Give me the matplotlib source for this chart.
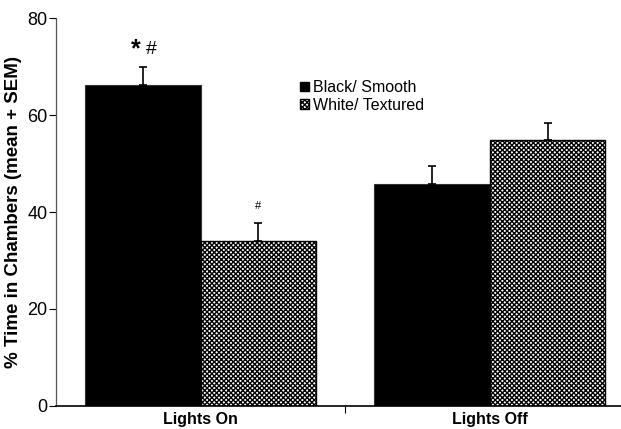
import numpy as np
import matplotlib
matplotlib.use("Agg")
import matplotlib.pyplot as plt
from matplotlib.patches import Patch

plt.rcParams['font.family'] = ['Liberation Sans', 'DejaVu Sans']
plt.rcParams['hatch.linewidth'] = 1.0

groups = ["Lights On", "Lights Off"]
series = ["Black/ Smooth", "White/ Textured"]
black_mean = [66.2, 45.7]
black_sem = [3.8, 3.7]
white_mean = [34.0, 54.8]
white_sem = [3.8, 3.6]

fig = plt.figure(figsize=(6.21, 4.29), dpi=100)
ax = fig.add_axes([0.0902, 0.0543, 0.9098, 0.9030])

x = np.arange(len(groups))
w = 0.40
ax.bar(x - w / 2, black_mean, w, color="black", edgecolor="#333333", linewidth=0.8)
ax.bar(x + w / 2, white_mean, w, color="white", edgecolor="black", hatch="xxxxxxx", linewidth=1.0)
ax.errorbar(x - w / 2, black_mean, yerr=[np.zeros(2), black_sem], fmt="none",
            ecolor="black", elinewidth=1.2, capsize=3, capthick=1.2)
ax.errorbar(x + w / 2, white_mean, yerr=[np.zeros(2), white_sem], fmt="none",
            ecolor="black", elinewidth=1.2, capsize=3, capthick=1.2)

# significance marks
top = black_mean[0] + black_sem[0]
ax.text(x[0] - w / 2 - 0.025, top + 3.5, "*", ha="center", va="center", fontsize=18, fontweight="bold")
ax.text(x[0] - w / 2 + 0.03, top + 3.6, "#", ha="center", va="center", fontsize=14)
ax.text(x[0] + w / 2, white_mean[0] + white_sem[0] + 2.5, "#", ha="center", va="bottom", fontsize=8)

ax.set_xlim(-0.5, 1.454)
ax.set_ylim(0, 80)
ax.set_yticks([0, 20, 40, 60, 80])
ax.tick_params(axis="y", labelsize=13, length=5, width=0.8, direction="out", pad=1)
ax.set_xticks([0.5])
ax.set_xticklabels([""])
ax.tick_params(axis="x", length=5, width=0.8, direction="out")
for xi, g in zip(x, groups):
    ax.text(xi, -1.3, g, ha="center", va="top", fontsize=11.5, fontweight="bold",
            transform=ax.transData)

ax.spines["top"].set_visible(False)
ax.spines["right"].set_visible(False)
ax.spines["left"].set_color("#555555")
ax.spines["left"].set_linewidth(0.9)
ax.spines["bottom"].set_linewidth(1.2)
ax.set_ylabel("% Time in Chambers (mean + SEM)", fontsize=13.5, fontweight="bold", labelpad=4)

handles = [Patch(facecolor="black", edgecolor="black"),
           Patch(facecolor="white", edgecolor="black", hatch="xxxxxxx")]
ax.legend(handles, series, loc="upper left", bbox_to_anchor=(0.432, 0.84), frameon=False,
          fontsize=11.5, handlelength=0.55, handleheight=0.55, handletextpad=0.25, labelspacing=0.15,
          borderpad=0, borderaxespad=0)

fig.savefig("out.png", dpi=100)
